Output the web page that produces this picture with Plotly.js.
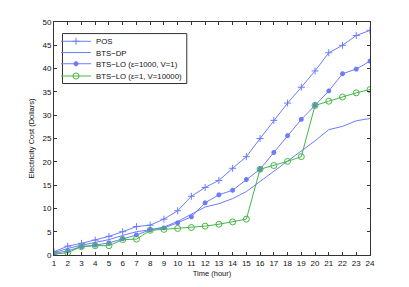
<!DOCTYPE html>
<html><head><meta charset="utf-8">
<script src="https://cdn.plot.ly/plotly-3.0.1.min.js"></script>
<style>html,body{margin:0;padding:0;background:#fff}#c{width:409px;height:287px}</style>
</head><body><div id="c"></div>
<script>
const hours = [1,2,3,4,5,6,7,8,9,10,11,12,13,14,15,16,17,18,19,20,21,22,23,24];
const pos   = [0.7,1.9,2.5,3.2,4.0,5.0,6.1,6.4,7.7,9.5,12.6,14.5,16.0,18.6,21.1,25.0,28.9,32.6,36.0,39.5,43.4,45.0,47.1,48.2];
const btsDP = [0.5,1.4,2.1,2.7,3.3,4.2,5.0,5.4,6.0,7.2,8.8,10.3,11.0,12.1,13.6,15.8,17.8,20.0,22.3,24.5,26.9,27.6,28.8,29.3];
const btsLO1 = [0.3,0.9,1.8,2.1,2.6,3.5,4.3,5.4,5.8,6.9,8.2,11.2,12.9,13.9,16.2,18.4,22.0,25.6,29.1,32.1,35.2,38.9,39.9,41.6];
const btsLO2 = [0.2,0.5,1.8,2.0,2.0,3.3,3.4,5.3,5.5,5.7,5.9,6.2,6.6,7.1,7.7,18.4,19.2,20.1,21.1,32.1,33.0,33.9,34.8,35.5];
const names = ['POS','BTS\u2212DP','BTS\u2212LO (\u03b5=1000, V=1)','BTS\u2212LO (\u03b5=1, V=10000)'];
const tickVals = hours;

const blue = '#6c7cff', blueDark = '#3347e6', green = '#44b844';
const font = {family:'Liberation Sans, Arial, sans-serif',size:8,color:'#222'};
const plotTop = 21.7, plotH = 233.3, plotLeft = 53.5, plotW = 316.5;
const rowPx = [41, 52.3, 63.5, 75.8];
// legend frame edges (pixels) -> fractions of the plot area
const boxL = 62, boxR = 186.5, boxT = 33.3, boxB = 83.3;
const fx0 = (boxL-plotLeft)/plotW, fx1 = (boxR-plotLeft)/plotW;
const fy0 = 1-(boxB-plotTop)/plotH, fy1 = 1-(boxT-plotTop)/plotH;

const traces = [
  {x:[fx0,fx1,fx1,fx0,fx0],y:[fy0,fy0,fy1,fy1,fy0],xaxis:'x2',yaxis:'y2',mode:'lines',
   line:{color:'#333',width:1},showlegend:false,hoverinfo:'skip',cliponaxis:false},
  {x:hours,y:pos,name:names[0],legend:'legend',mode:'lines+markers',line:{color:blue,width:1},
   marker:{symbol:'cross-thin-open',size:5,line:{color:blue,width:1}}},
  {x:hours,y:btsDP,name:names[1],legend:'legend2',mode:'lines',line:{color:blue,width:1}},
  {x:hours,y:btsLO1,name:names[2],legend:'legend3',mode:'lines+markers',line:{color:blue,width:1},
   marker:{symbol:'asterisk-open',size:4,line:{color:blueDark,width:1.8}}},
  {x:hours,y:btsLO2,name:names[3],legend:'legend4',mode:'lines+markers',line:{color:green,width:1},
   marker:{symbol:'circle-open',size:6,line:{color:green,width:1}}}
];
function legendAt(py){
  return {x:(55.5-plotLeft)/plotW, y:1-(py-plotTop)/plotH, xanchor:'left', yanchor:'middle',
    bgcolor:'rgba(255,255,255,0)', bordercolor:'rgba(255,255,255,0)', borderwidth:0,
    font:{family:font.family,size:7.8,color:'#111'}, itemwidth:30};
}
const layout = {
  width:409,height:287,
  margin:{l:plotLeft,r:39,t:plotTop,b:32,pad:0},
  paper_bgcolor:'#fff',plot_bgcolor:'#fff',
  font:font,
  showlegend:true,
  legend:legendAt(rowPx[0]), legend2:legendAt(rowPx[1]),
  legend3:legendAt(rowPx[2]), legend4:legendAt(rowPx[3]),
  xaxis2:{overlaying:'x',range:[0,1],visible:false,fixedrange:true},
  yaxis2:{overlaying:'y',range:[0,1],visible:false,fixedrange:true},
  xaxis:{range:[1,24],tickvals:tickVals,ticktext:tickVals.map(String),
    ticks:'inside',ticklen:3,tickcolor:'#333',showgrid:false,zeroline:false,
    showline:true,linecolor:'#333',linewidth:1,mirror:'ticks',
    tickfont:{size:8,color:'#111'},
    title:{text:'Time (hour)',font:{size:7.5,color:'#111'},standoff:4}},
  yaxis:{range:[0,50],dtick:5,ticks:'inside',ticklen:3,tickcolor:'#333',showgrid:false,zeroline:false,
    showline:true,linecolor:'#333',linewidth:1,mirror:'ticks',
    tickfont:{size:8,color:'#111'},
    title:{text:'Electricity Cost (Dollars)',font:{size:7.5,color:'#111'},standoff:6}}
};
Plotly.newPlot('c',traces,layout,{displayModeBar:false,staticPlot:true});
</script></body></html>
